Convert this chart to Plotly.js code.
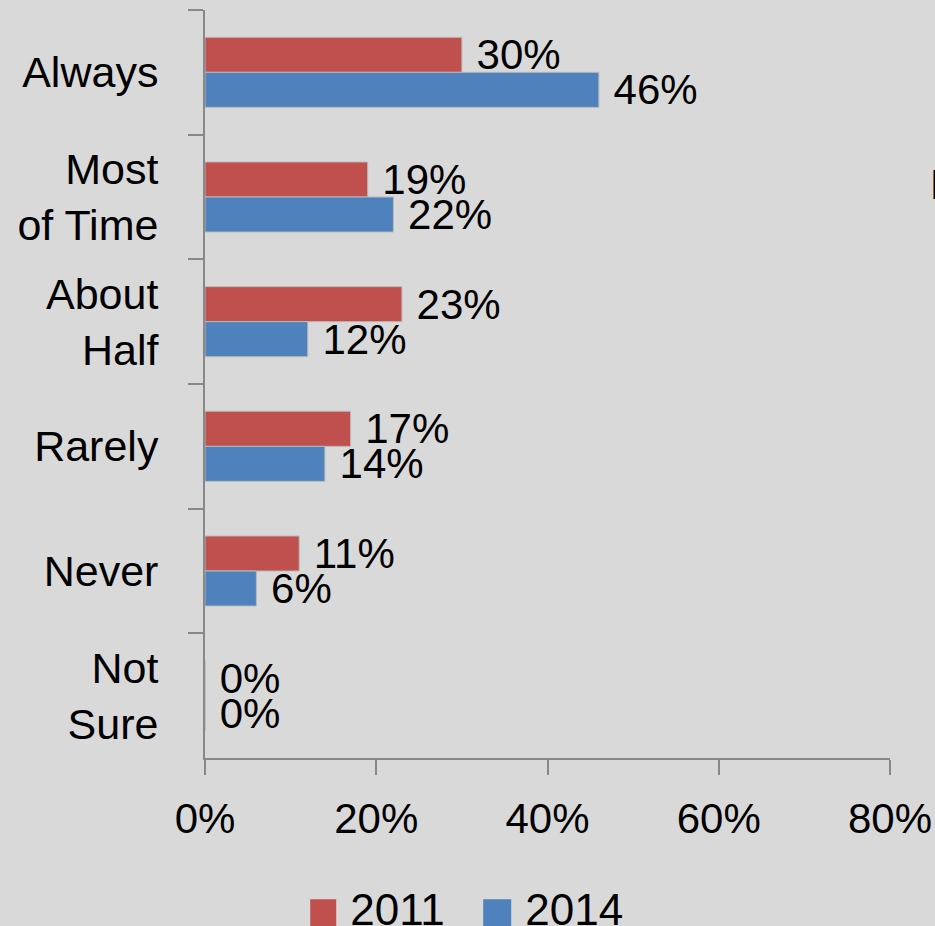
<!DOCTYPE html>
<html>
<head>
<meta charset="utf-8">
<script src="https://cdn.plot.ly/plotly-3.0.1.min.js"></script>
<style>
html,body{margin:0;padding:0;background:#d9d9d9;}
#chart{width:935px;height:926px;}
</style>
</head>
<body>
<div id="chart"></div>
<script>
var categories = ["Always", "Most<br>of Time", "About<br>Half", "Rarely", "Never", "Not<br>Sure"];
var values2011 = [30, 19, 23, 17, 11, 0];
var values2014 = [46, 22, 12, 14, 6, 0];
var seriesNames = ["2011", "2014"];
var xTickVals = [0, 20, 40, 60, 80];
var xTickText = ["0%", "20%", "40%", "60%", "80%"];

var FONT = "Liberation Sans, Arial, sans-serif";
var SIZE = 42;

function labels(vals){ return vals.map(function(v){ return "\u00a0" + v + "%"; }); }

var traces = [
  {
    type: "bar", orientation: "h", name: seriesNames[0],
    y: categories, x: values2011, text: labels(values2011),
    marker: {color: "#c0504d", line: {color: "#b9b9b9", width: 1}},
    textposition: "outside",
    textfont: {family: FONT, size: SIZE, color: "#000"},
    constraintext: "none", cliponaxis: false, hoverinfo: "none"
  },
  {
    type: "bar", orientation: "h", name: seriesNames[1],
    y: categories, x: values2014, text: labels(values2014),
    marker: {color: "#4f81bd", line: {color: "#b9b9b9", width: 1}},
    textposition: "outside",
    textfont: {family: FONT, size: SIZE, color: "#000"},
    constraintext: "none", cliponaxis: false, hoverinfo: "none"
  }
];

var layout = {
  width: 935, height: 926,
  paper_bgcolor: "#d9d9d9", plot_bgcolor: "#d9d9d9",
  font: {family: FONT, size: SIZE, color: "#000"},
  margin: {l: 205, r: 45, t: 10, b: 168, autoexpand: false},
  barmode: "group", bargap: 0.438, bargroupgap: 0,
  showlegend: true,
  legend: {
    orientation: "h", x: 0.1536, xanchor: "left", y: -0.154, yanchor: "top",
    traceorder: "normal", font: {family: FONT, size: 44, color: "#000"},
    bgcolor: "rgba(0,0,0,0)", entrywidth: 130, entrywidthmode: "pixels"
  },
  xaxis: {
    range: [0, 80], tickvals: xTickVals, ticktext: xTickText,
    showgrid: false, zeroline: false,
    showline: true, linecolor: "#888888", linewidth: 2,
    ticks: "outside", ticklen: 15, tickcolor: "#888888", tickwidth: 2,
    ticklabelstandoff: 8,
    tickfont: {family: FONT, size: SIZE, color: "#000"},
    fixedrange: true
  },
  yaxis: {
    categoryorder: "array", categoryarray: categories,
    autorange: "reversed",
    showgrid: false, zeroline: false,
    showline: true, linecolor: "#888888", linewidth: 2,
    ticks: "outside", ticklen: 15, tickcolor: "#888888", tickwidth: 2,
    tickson: "boundaries", ticklabelstandoff: 36,
    tickfont: {family: FONT, size: 43, color: "#000"},
    fixedrange: true
  },
  annotations: [
    {text: "N", xref: "paper", yref: "paper", x: 1.0555, y: 0.7666,
     xanchor: "left", yanchor: "middle", showarrow: false,
     font: {family: FONT, size: SIZE, color: "#000"}}
  ]
};

Plotly.newPlot("chart", traces, layout, {displayModeBar: false, staticPlot: true}).then(function(gd){
  var pts = gd.querySelectorAll(".legend .legendpoints path");
  pts.forEach(function(p){ p.setAttribute("d", "M6,19H-22V-9H6Z"); p.style.strokeWidth = "0"; });
});
</script>
</body>
</html>
